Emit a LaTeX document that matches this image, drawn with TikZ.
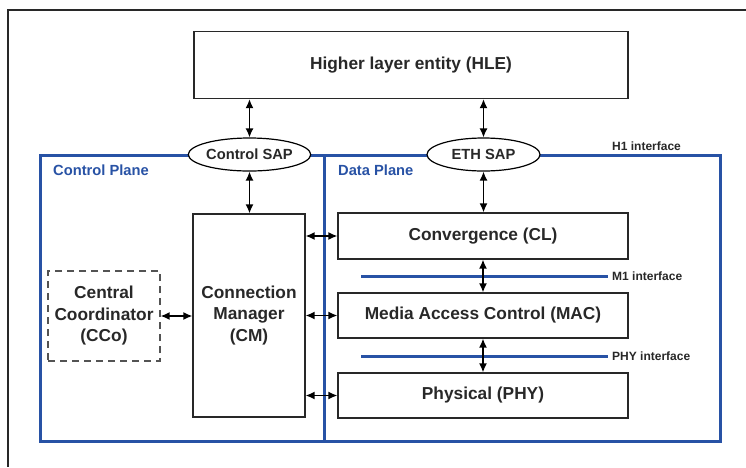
\documentclass[tikz,border=0pt]{standalone}
\usepackage{fontspec}
\setmainfont{Liberation Sans}
\usetikzlibrary{arrows.meta,shapes.geometric}
\definecolor{planeblue}{RGB}{40,82,165}
\definecolor{ink}{RGB}{40,40,40}
\tikzset{
  box/.style={draw=ink, line width=1.3pt, fill=white, text=ink, align=center,
    inner sep=0pt, font=\bfseries\fontsize{17.3}{21.5}\selectfont},
  sap/.style={ellipse, draw=black, line width=1.2pt, fill=white, text=ink,
    inner sep=0pt, minimum width=113pt, minimum height=33pt,
    font=\bfseries\fontsize{14.7}{17}\selectfont},
  dashbox/.style={box, draw=ink!80, dash pattern=on 7pt off 5pt},
  link/.style={line width=1.4pt, black,
    {Latex[length=9pt,width=8pt]}-{Latex[length=9pt,width=8pt]}},
  plane/.style={draw=planeblue, line width=3pt},
  iface/.style={draw=planeblue, line width=3pt},
  planelabel/.style={anchor=west, inner sep=0pt, text=planeblue,
    font=\bfseries\fontsize{14.7}{17}\selectfont},
  ifacelabel/.style={anchor=west, inner sep=0pt, text=ink,
    font=\bfseries\fontsize{12}{14}\selectfont},
}
\begin{document}
\begin{tikzpicture}[x=1pt, y=-1pt]
\useasboundingbox (0,0) rectangle (746,467);
\fill[white] (0,0) rectangle (746,467);

% outer frame (open towards right and bottom)
\draw[ink, line width=1.2pt] (746,10) -- (8,10) -- (8,467);

% control plane and data plane frames
\draw[plane] (40,155) rectangle (720,441.5);
\draw[plane] (324,155) -- (324,441.5);
\node[planelabel] (cplabel) at (53,170) {Control Plane};
\node[planelabel] (dplabel) at (338,170) {Data Plane};

% higher layer entity
\node[box, minimum width=434pt, minimum height=67pt] (hle) at (411,65) {Higher layer entity (HLE)};

% service access points
\node[sap] (csap) at (249.5,154.5) {Control SAP};
\node[sap] (esap) at (483.5,154.5) {ETH SAP};
\node[ifacelabel] (h1) at (612,146) {H1 interface};

% control plane entities
\node[box, minimum width=112pt, minimum height=203pt] (cm) at (249,315.5) {Connection\\Manager\\(CM)};
\node[dashbox, minimum width=112pt, minimum height=90pt] (cco) at (104,316) {Central\\Coordinator\\(CCo)};

% data plane layers
\node[box, minimum width=290pt, minimum height=46pt] (cl) at (483,236) {Convergence (CL)};
\node[box, minimum width=290pt, minimum height=45pt] (mac) at (483,315.5) {Media Access Control (MAC)};
\node[box, minimum width=290pt, minimum height=45pt] (phy) at (483,395.5) {Physical (PHY)};

% internal interfaces
\coordinate (m1a) at (361,276);
\coordinate (m1b) at (608,276);
\coordinate (pia) at (361,356);
\coordinate (pib) at (608,356);
\draw[iface] (m1a) -- (m1b);
\draw[iface] (pia) -- (pib);
\node[ifacelabel] (m1) at (612,276) {M1 interface};
\node[ifacelabel] (pif) at (612,356) {PHY interface};

% connectors
\draw[link] (hle.south -| csap.north) -- (csap.north);
\draw[link] (hle.south -| esap.north) -- (esap.north);
\draw[link] (csap.south) -- (csap.south |- cm.north);
\draw[link] (esap.south) -- (esap.south |- cl.north);
\draw[link] (cl.south) -- (mac.north);
\draw[link] (mac.south) -- (phy.north);
\draw[link] (cm.east |- cl.west) -- (cl.west);
\draw[link] (cm.east |- mac.west) -- (mac.west);
\draw[link] (cm.east |- phy.west) -- (phy.west);
\draw[link] (cco.east) -- (cco.east -| cm.west);
\end{tikzpicture}
\end{document}
